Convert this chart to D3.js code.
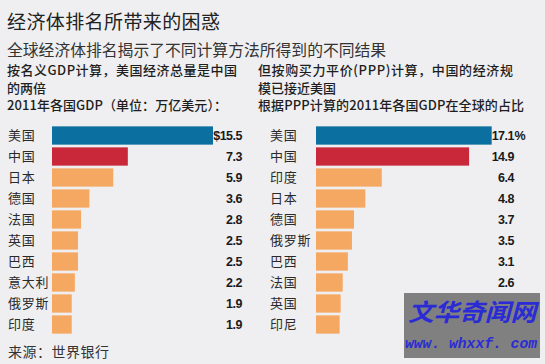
<!DOCTYPE html>
<html><head><meta charset="utf-8">
<script src="https://cdn.jsdelivr.net/npm/d3@7"></script>
<style>
html,body{margin:0;padding:0;background:#efeff1;}
svg{display:block;}
</style></head>
<body><svg id="c" width="545" height="364"></svg>
<script>
const leftCats = ["美国","中国","日本","德国","法国","英国","巴西","意大利","俄罗斯","印度"];
const leftVals = [15.5,7.3,5.9,3.6,2.8,2.5,2.5,2.2,1.9,1.9];
const leftLabels = ["$15.5","7.3","5.9","3.6","2.8","2.5","2.5","2.2","1.9","1.9"];
const rightCats = ["美国","中国","印度","日本","德国","俄罗斯","巴西","法国","英国","印尼"];
const rightVals = [17.1,14.9,6.4,4.8,3.7,3.5,3.1,2.6,2.4,2.3];
const rightLabels = ["17.1","14.9","6.4","4.8","3.7","3.5","3.1","2.6","2.4","2.3"];
const barColors = ["#0b709f","#c8283a","#f5a862"];

const svg = d3.select("#c");
svg.append("rect").attr("width",545).attr("height",364).attr("fill","#efeff1");
const cjk = "'Noto Sans CJK SC','Noto Sans',sans-serif";
const num = "'Liberation Sans Narrow','Liberation Sans','DejaVu Sans Condensed',sans-serif";

svg.append("text").attr("x",7).attr("y",29).attr("font-family",cjk).attr("font-size",19)
  .attr("letter-spacing",0.4).attr("fill","#222").text("经济体排名所带来的困惑");
svg.append("text").attr("x",7).attr("y",56).attr("font-family",cjk).attr("font-size",15.8)
  .attr("fill","#333").text("全球经济体排名揭示了不同计算方法所得到的不同结果");

const headL = ["按名义GDP计算，美国经济总量是中国","的两倍","2011年各国GDP（单位：万亿美元）："];
const headR = ["但按购买力平价(PPP)计算，中国的经济规","模已接近美国","根据PPP计算的2011年各国GDP在全球的占比"];
const headLW = [230, null, 220];
const headRW = [255, null, 266];
[[headL,7,headLW],[headR,258,headRW]].forEach(([lines,x,ws])=>{
  lines.forEach((t,i)=>{
    const tx = svg.append("text").attr("x",x).attr("y",75+i*17.5).attr("font-family",cjk)
      .attr("font-size",13).attr("font-weight",500).attr("fill","#1e1e1e").text(t);
    if(ws[i]) tx.attr("textLength",ws[i]).attr("lengthAdjust","spacing");
  });
});

function panel(cats, vals, labels, x0, x1, labelX, valX, suffix){
  const x = d3.scaleLinear().domain([0, vals[0]]).range([x0, x1]);
  const y = d3.scaleBand().domain(cats).range([125,335]).paddingInner(0.13).paddingOuter(0.065);
  const g = svg.append("g");
  g.selectAll("rect.bar").data(cats).join("rect").attr("class","bar")
    .attr("x",x(0)).attr("y",d=>y(d)).attr("height",y.bandwidth())
    .attr("width",(d,i)=>x(vals[i])-x(0))
    .attr("fill",(d,i)=>barColors[Math.min(i,2)]);
  g.selectAll("text.cat").data(cats).join("text").attr("class","cat")
    .attr("x",labelX).attr("y",d=>y(d)+y.bandwidth()/2).attr("dy","0.36em")
    .attr("font-family",cjk).attr("font-size",13).attr("letter-spacing",0.7).attr("fill","#2a2a2a").text(d=>d);
  g.selectAll("text.val").data(cats).join("text").attr("class","val")
    .attr("x",valX).attr("y",d=>y(d)+y.bandwidth()/2).attr("dy","0.36em")
    .attr("text-anchor","end").attr("font-family",num).attr("font-weight","bold")
    .attr("font-size",12.5).attr("letter-spacing",-0.5).attr("fill","#1a1a1a").text((d,i)=>labels[i]);
  if(suffix){
    g.append("text").attr("x",valX+0.5).attr("y",y(cats[0])+y.bandwidth()/2).attr("dy","0.36em")
      .attr("font-family",num).attr("font-weight","bold").attr("font-size",12.5).attr("fill","#1a1a1a").text(suffix);
  }
}
panel(leftCats,leftVals,leftLabels,52,213,8,242,null);
panel(rightCats,rightVals,rightLabels,316,491.7,270,514,"%");

svg.append("text").attr("x",8).attr("y",357).attr("font-family",cjk).attr("font-size",14)
  .attr("letter-spacing",0.5).attr("fill","#333").text("来源：世界银行");

// watermark overlay present in the reference image
svg.append("rect").attr("x",404).attr("y",293).attr("width",136).attr("height",65).attr("fill","#808080");
svg.append("text").attr("x",408).attr("y",321).attr("font-family",cjk)
  .attr("font-size",24).attr("font-weight","bold").attr("font-style","italic").attr("fill","#2b2bd6")
  .attr("textLength",128).attr("lengthAdjust","spacingAndGlyphs").text("文华奇闻网");
svg.append("text").attr("x",405).attr("y",348)
  .attr("font-family","'Liberation Mono','DejaVu Sans Mono',monospace").attr("font-size",15)
  .attr("font-weight","bold").attr("font-style","italic").attr("fill","#2b2bd6")
  .attr("textLength",132).attr("lengthAdjust","spacingAndGlyphs").text("www. whxxf. com");
</script></body></html>
